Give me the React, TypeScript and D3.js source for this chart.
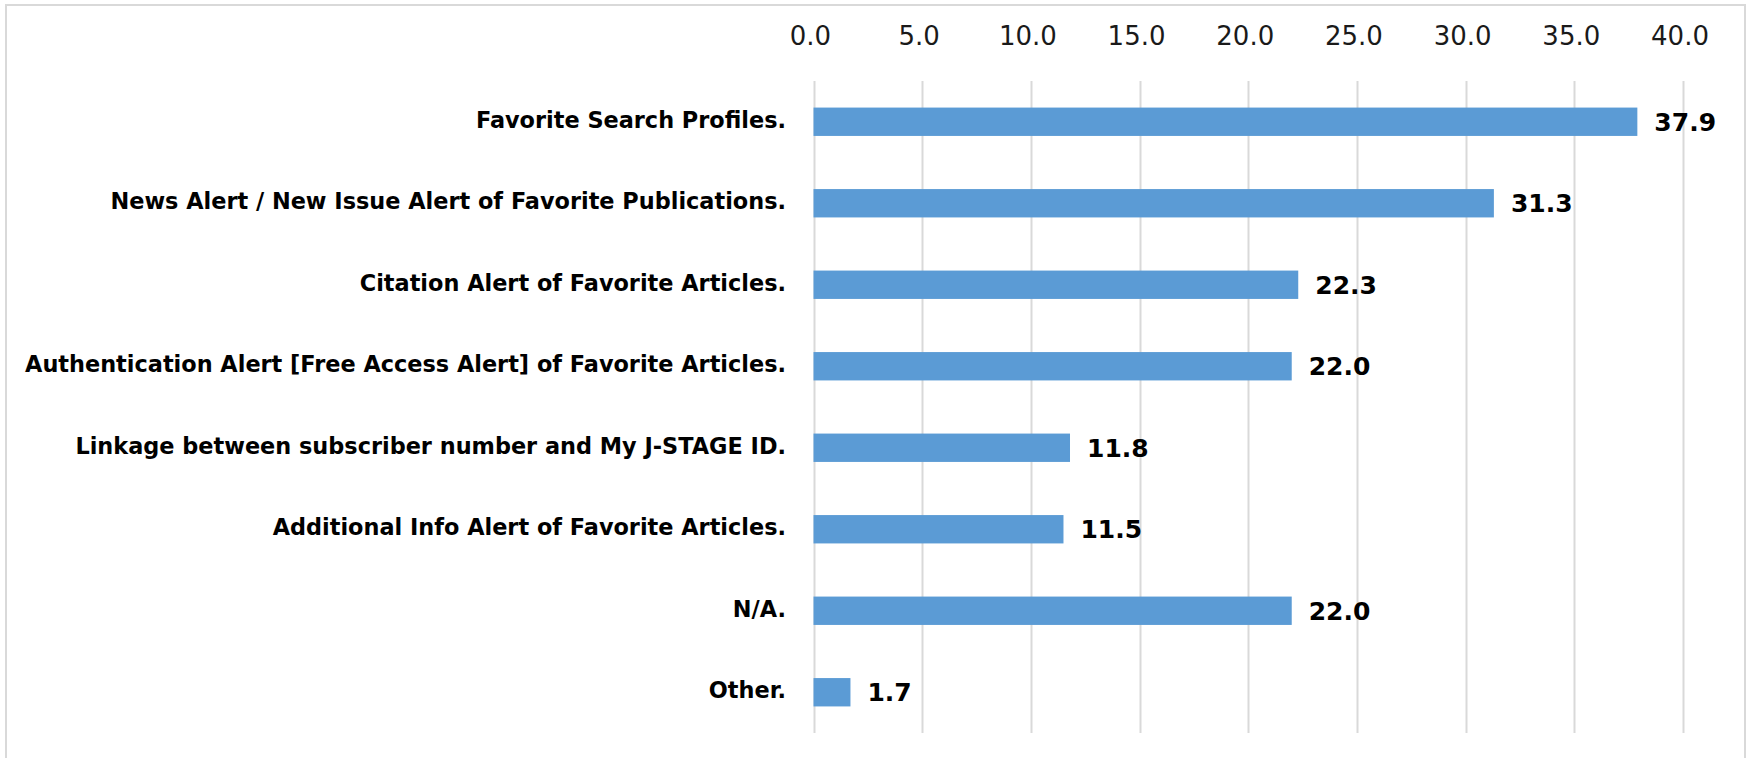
import React, { useEffect, useRef } from 'react';
import * as d3 from 'd3';

const WIDTH = 1751;
const HEIGHT = 758;

const categories = [
  'Favorite Search Profiles.',
  'News Alert / New Issue Alert of Favorite Publications.',
  'Citation Alert of Favorite Articles.',
  'Authentication Alert [Free Access Alert] of Favorite Articles.',
  'Linkage between subscriber number and My J-STAGE ID.',
  'Additional Info Alert of Favorite Articles.',
  'N/A.',
  'Other.'
];
const values = [37.9, 31.3, 22.3, 22.0, 11.8, 11.5, 22.0, 1.7];
const ticks = [0, 5, 10, 15, 20, 25, 30, 35, 40];

const FONT = '"DejaVu Sans", Verdana, sans-serif';

const App = () => {
  const ref = useRef<SVGSVGElement | null>(null);

  useEffect(() => {
    const svg = d3.select(ref.current);
    svg.selectAll('*').remove();

    const margin = { top: 81, right: 70, bottom: 25, left: 813.5 };
    const x = d3.scaleLinear()
      .domain([0, 40])
      .range([margin.left, WIDTH - margin.right + 2]);
    const y = d3.scaleBand()
      .domain(categories)
      .range([margin.top, HEIGHT - margin.bottom])
      .paddingInner(0.652)
      .paddingOuter(0.326);

    // background + border
    svg.append('rect')
      .attr('x', 6).attr('y', 5)
      .attr('width', 1739).attr('height', 770)
      .attr('fill', '#fff')
      .attr('stroke', '#d9d9d9')
      .attr('stroke-width', 2);

    // gridlines
    svg.append('g')
      .selectAll('line')
      .data(ticks)
      .enter()
      .append('line')
      .attr('x1', d => Math.round(x(d)) + 0.5)
      .attr('x2', d => Math.round(x(d)) + 0.5)
      .attr('y1', margin.top)
      .attr('y2', HEIGHT - margin.bottom)
      .attr('stroke', '#d9d9d9')
      .attr('stroke-width', 2);

    // tick labels along the top
    svg.append('g')
      .selectAll('text')
      .data(ticks)
      .enter()
      .append('text')
      .attr('x', d => x(d) - 3)
      .attr('y', 45)
      .attr('text-anchor', 'middle')
      .style('font-family', FONT)
      .style('font-size', '26px')
      .attr('fill', '#1a1a1a')
      .text(d => d.toFixed(1));

    // bars
    svg.append('g')
      .selectAll('rect')
      .data(values)
      .enter()
      .append('rect')
      .attr('x', x(0))
      .attr('y', (d, i) => y(categories[i]) as number)
      .attr('width', d => x(d) - x(0))
      .attr('height', y.bandwidth())
      .attr('fill', '#5b9bd5');

    // category labels
    svg.append('g')
      .selectAll('text')
      .data(categories)
      .enter()
      .append('text')
      .attr('x', 786)
      .attr('y', d => (y(d) as number) + y.bandwidth() / 2 + 6)
      .attr('text-anchor', 'end')
      .style('font-family', FONT)
      .style('font-size', '22.4px')
      .style('font-weight', 'bold')
      .attr('fill', '#000')
      .text(d => d);

    // value labels
    svg.append('g')
      .selectAll('text')
      .data(values)
      .enter()
      .append('text')
      .attr('x', d => x(d) + 17)
      .attr('y', (d, i) => (y(categories[i]) as number) + y.bandwidth() / 2 + 9)
      .style('font-family', FONT)
      .style('font-size', '25px')
      .style('font-weight', 'bold')
      .attr('fill', '#000')
      .text(d => d.toFixed(1));
  }, []);

  return (
    <svg
      ref={ref}
      width={WIDTH}
      height={HEIGHT}
      style={{ position: 'absolute', left: 0, top: 0, background: '#fff' }}
    />
  );
};

export default App;
